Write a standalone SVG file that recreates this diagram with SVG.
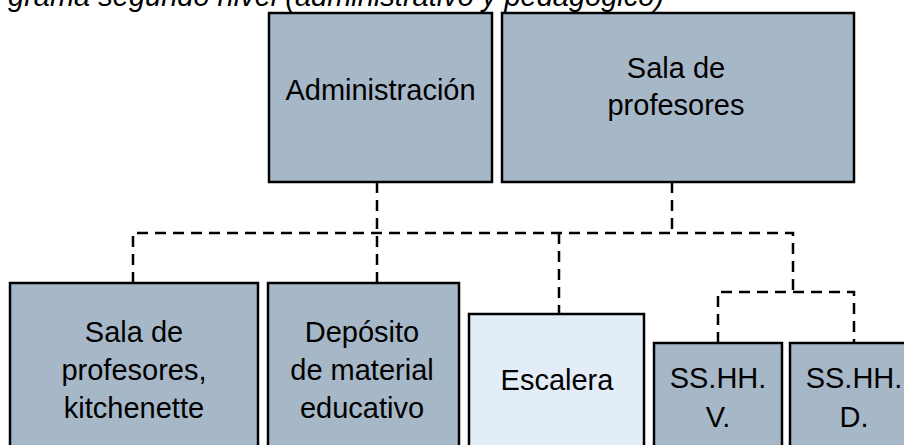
<svg xmlns="http://www.w3.org/2000/svg" width="904" height="445" viewBox="0 0 904 445">
  <style>
    .box { fill: #a6b7c8; stroke: #000; stroke-width: 2.5; }
    .light { fill: #e3edf7; stroke: #000; stroke-width: 2.5; }
    .lbl { font-family: "Liberation Sans", Arial, Helvetica, sans-serif; font-size: 29px; fill: #000; text-anchor: middle; }
    .title { font-family: "Liberation Sans", Arial, Helvetica, sans-serif; font-size: 29px; font-style: italic; fill: #000; }
    .dash { fill: none; stroke: #000; stroke-width: 2.5; stroke-dasharray: 11 7; }
  </style>
  <rect width="904" height="445" fill="#fff"/>
  <text class="title" x="8" y="6">grama segundo nivel (administrativo y pedagógico)</text>

  <g id="connectors">
    <path class="dash" d="M377 182 V283"/>
    <path class="dash" d="M672 182 V233"/>
    <path class="dash" d="M133 283 V233 H793 V292"/>
    <path class="dash" d="M559 233 V314"/>
    <path class="dash" d="M718 343 V292 H854 V343"/>
  </g>

  <g id="administracion">
    <rect class="box" x="269" y="13" width="223" height="169"/>
    <text class="lbl" x="380.5" y="100">Administración</text>
  </g>
  <g id="sala-profesores">
    <rect class="box" x="502" y="13" width="352" height="169"/>
    <text class="lbl" x="676" y="78">Sala de</text>
    <text class="lbl" x="676" y="115">profesores</text>
  </g>
  <g id="sala-kitchenette">
    <rect class="box" x="10" y="283" width="248" height="180"/>
    <text class="lbl" x="134" y="342">Sala de</text>
    <text class="lbl" x="134" y="380">profesores,</text>
    <text class="lbl" x="134" y="418">kitchenette</text>
  </g>
  <g id="deposito">
    <rect class="box" x="268" y="283" width="191" height="180"/>
    <text class="lbl" x="362" y="342">Depósito</text>
    <text class="lbl" x="362" y="380">de material</text>
    <text class="lbl" x="362" y="418">educativo</text>
  </g>
  <g id="escalera">
    <rect class="light" x="469" y="314" width="175" height="150"/>
    <text class="lbl" x="557" y="390">Escalera</text>
  </g>
  <g id="sshh-v">
    <rect class="box" x="654" y="343" width="128" height="120"/>
    <text class="lbl" x="718" y="388">SS.HH.</text>
    <text class="lbl" x="718" y="427">V.</text>
  </g>
  <g id="sshh-d">
    <rect class="box" x="790" y="343" width="128" height="120"/>
    <text class="lbl" x="854" y="388">SS.HH.</text>
    <text class="lbl" x="854" y="427">D.</text>
  </g>
</svg>
